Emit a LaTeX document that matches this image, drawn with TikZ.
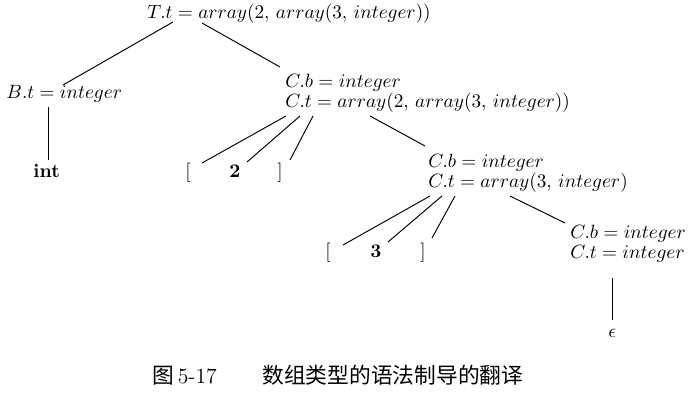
\documentclass[tikz,border=0pt]{standalone}
\usepackage{fontspec}
\newfontfamily\cjk{Noto Sans CJK SC}
\usetikzlibrary{calc}

\begin{document}
\begin{tikzpicture}[x=0.52pt,y=-0.52pt,line width=0.5pt,
	every node/.style={anchor=base west,inner sep=0pt,font=\fontsize{10}{10.4}\selectfont},
	attr/.style={align=left}]
	\useasboundingbox (0,0) rectangle (689,406);
	% nodes of the tree (base west of a two-line node = its last line)
	\node (T) at (147,19) {$T.t = array(2,\, array(3,\, integer))$};
	\node (B) at (6,99) {$B.t = integer$};
	\node (int) at (33,178) {\textbf{int}};
	\node[attr] (C1) at (285,108) {$C.b = integer$\\$C.t = array(2,\, array(3,\, integer))$};
	\node (lb1) at (185,178) {[};
	\node (n2) at (229,178) {\textbf{2}};
	\node (rb1) at (277,178) {]};
	\node[attr] (C2) at (428,188) {$C.b = integer$\\$C.t = array(3,\, integer)$};
	\node (lb2) at (325,257) {[};
	\node (n3) at (370,257) {\textbf{3}};
	\node (rb2) at (420,257) {]};
	\node[attr] (C3) at (570,258) {$C.b = integer$\\$C.t = integer$};
	\node (eps) at (608,337) {$\epsilon$};
	% edges
	\draw ($(T.base west)+(26,3)$) -- ($(B.base west)+(57,-14)$);
	\draw ($(T.base west)+(55,4)$) -- ($(C1.base west)+(-5,-41)$);
	\draw ($(B.base west)+(42,8)$) -- ($(int.base west)+(15,-18)$);
	\draw ($(C1.base west)+(1,8)$) -- ($(lb1.base west)+(17,-15)$);
	\draw ($(C1.base west)+(15,8)$) -- ($(n2.base west)+(18,-16)$);
	\draw ($(C1.base west)+(28,8)$) -- ($(rb1.base west)+(13,-18)$);
	\draw ($(C1.base west)+(85,8)$) -- ($(C2.base west)+(-3,-42)$);
	\draw ($(C2.base west)+(2,8)$) -- ($(lb2.base west)+(18,-12)$);
	\draw ($(C2.base west)+(14,8)$) -- ($(n3.base west)+(18,-15)$);
	\draw ($(C2.base west)+(27,8)$) -- ($(rb2.base west)+(12,-19)$);
	\draw ($(C2.base west)+(82,8)$) -- ($(C3.base west)+(-5,-35)$);
	\draw ($(C3.base west)+(42,20)$) -- ($(eps.base west)+(4,-17)$);
	% caption
	\node[font=\fontsize{11.3}{13}\selectfont] (cap) at (152,383) {{\cjk 图}\,5-17\hspace{2.1em}{\cjk 数组类型的语法制导的翻译}};
\end{tikzpicture}
\end{document}
